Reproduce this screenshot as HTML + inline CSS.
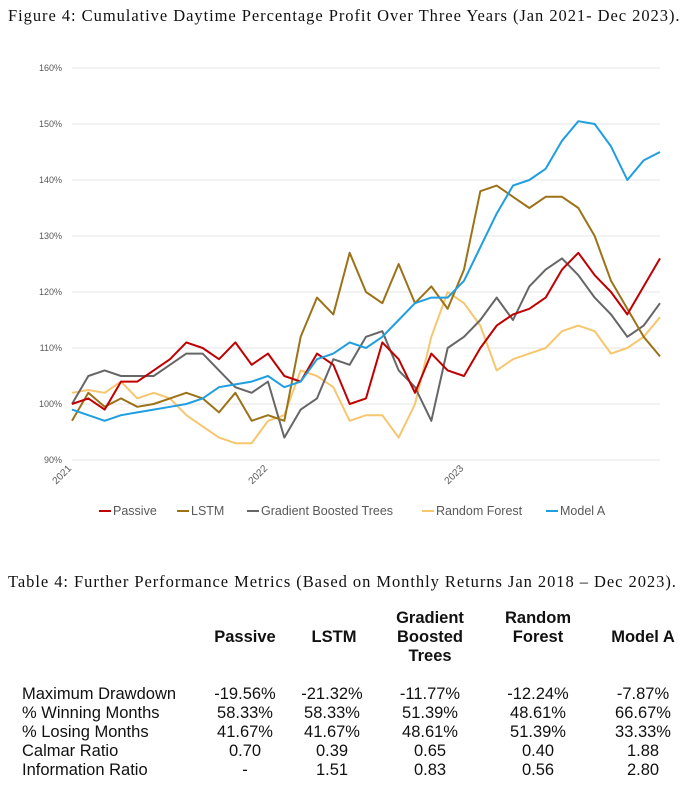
<!DOCTYPE html>
<html><head><meta charset="utf-8"><style>
body{margin:0;width:700px;height:792px;background:#fff;overflow:hidden;position:relative;font-family:"Liberation Sans",sans-serif}
.cap{position:absolute;left:8px;font-family:"Liberation Serif",serif;font-size:16.5px;letter-spacing:0.95px;color:#111;white-space:nowrap}
.t{position:absolute;font-size:16.5px;color:#111;white-space:nowrap}
.h{font-weight:bold;text-align:center;line-height:19px}
.c{text-align:center;width:100px}
</style></head><body>
<div class="cap" style="top:6px">Figure 4: Cumulative Daytime Percentage Profit Over Three Years (Jan 2021- Dec 2023).</div>
<svg id="chart" width="700" height="540" style="position:absolute;left:0;top:0"></svg>
<div class="cap" style="top:572px">Table 4: Further Performance Metrics (Based on Monthly Returns Jan 2018 – Dec 2023).</div>
<div>
<div class="t h" style="left:195px;width:100px;top:628px">Passive</div>
<div class="t h" style="left:284px;width:100px;top:628px">LSTM</div>
<div class="t h" style="left:380px;width:100px;top:609px">Gradient<br>Boosted<br>Trees</div>
<div class="t h" style="left:488px;width:100px;top:609px">Random<br>Forest</div>
<div class="t h" style="left:593px;width:100px;top:628px">Model A</div>
</div>
<div id="rows"></div>
<script>
const months=[];for(let i=0;i<=36;i++)months.push(i);
const passive=[100,101,99,104,104,106,108,111,110,108,111,107,109,105,104,109,107,100,101,111,108,102,109,106,105,110,114,116,117,119,124,127,123,120,116,121,126];
const lstm=[97,102,99.5,101,99.5,100,101,102,101,98.5,102,97,98,97,112,119,116,127,120,118,125,118,121,117,124,138,139,137,135,137,137,135,130,122,117,112,108.5];
const gbt=[100,105,106,105,105,105,107,109,109,106,103,102,104,94,99,101,108,107,112,113,106,103,97,110,112,115,119,115,121,124,126,123,119,116,112,114,118];
const rf=[102,102.5,102,104,101,102,101,98,96,94,93,93,97,98,106,105,103,97,98,98,94,100,112,120,118,114,106,108,109,110,113,114,113,109,110,112,115.5];
const modelA=[99,98,97,98,98.5,99,99.5,100,101,103,103.5,104,105,103,104,108,109,111,110,112,115,118,119,119,122,128,134,139,140,142,147,150.5,150,146,140,143.5,145];
const yTicks=[90,100,110,120,130,140,150,160];
const xTickLabels=["2021","2022","2023"];
const xTickMonths=[0,12,24];
const seriesNames=["Passive","LSTM","Gradient Boosted Trees","Random Forest","Model A"];
const NS="http://www.w3.org/2000/svg";
const svg=document.getElementById('chart');
const X=m=>72+m*(588/36);
const Y=v=>404-(v-100)*5.6;
function mk(t,a){const e=document.createElementNS(NS,t);for(const k in a)e.setAttribute(k,a[k]);svg.appendChild(e);return e;}
yTicks.forEach(v=>{
 const g=mk('line',{x1:72,x2:660,y1:Y(v),y2:Y(v),stroke:'#e6e6e6','stroke-width':1});
 
 
 const t=mk('text',{x:62,y:Y(v)+3,'text-anchor':'end','font-size':9,fill:'#595959','font-family':'Liberation Sans, sans-serif'});
 t.textContent=v+'%';
 
 
});
xTickMonths.forEach((m,i)=>{
 const x=X(m),y=469;
 const t=mk('text',{x:x,y:y,'text-anchor':'end','font-size':10,fill:'#595959',transform:`rotate(-45 ${x} ${y})`,'font-family':'Liberation Sans, sans-serif'});
 t.textContent=xTickLabels[i];
 
 
});
const data=[[rf,'#f7c66e','series-random-forest'],[gbt,'#666666','series-gradient-boosted-trees'],[lstm,'#9c7219','series-lstm'],[passive,'#c00000','series-passive'],[modelA,'#1f9ee0','series-model-a']];
data.forEach(([d,c,n])=>{
 const p=mk('polyline',{points:d.map((v,i)=>X(months[i])+','+Y(v)).join(' '),fill:'none',stroke:c,'stroke-width':2,'stroke-linejoin':'round'});
 
 
});
const leg=[[99,'#c00000'],[177,'#9c7219'],[247,'#666666'],[422,'#f7c66e'],[546,'#1f9ee0']];
leg.forEach(([x,c],i)=>{
 const l=mk('line',{x1:x,x2:x+12,y1:511,y2:511,stroke:c,'stroke-width':2});
 
 
 const t=mk('text',{x:x+14,y:515,'font-size':12.5,fill:'#595959','font-family':'Liberation Sans, sans-serif'});
 t.textContent=seriesNames[i];
 
 
});
const rowLabels=["Maximum Drawdown","% Winning Months","% Losing Months","Calmar Ratio","Information Ratio"];
const rowVals=[["-19.56%","-21.32%","-11.77%","-12.24%","-7.87%"],["58.33%","58.33%","51.39%","48.61%","66.67%"],["41.67%","41.67%","48.61%","51.39%","33.33%"],["0.70","0.39","0.65","0.40","1.88"],["-","1.51","0.83","0.56","2.80"]];
const colX=[245,332,430,538,643];
const rows=document.getElementById('rows');
rowLabels.forEach((r,i)=>{
 const top=685+i*19;
 const d=document.createElement('div');d.className='t';d.style.left='22px';d.style.top=top+'px';d.textContent=r;
 
 
 rows.appendChild(d);
 rowVals[i].forEach((v,j)=>{
  const e=document.createElement('div');e.className='t c';e.style.left=(colX[j]-50)+'px';e.style.top=top+'px';e.textContent=v;
  
  
  rows.appendChild(e);
 });
});
</script>
</body></html>
